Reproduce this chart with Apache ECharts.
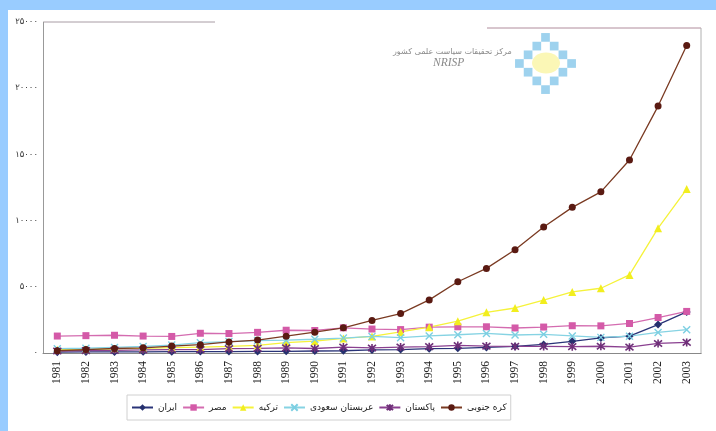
<!DOCTYPE html>
<html><head><meta charset="utf-8">
<script src="https://cdn.jsdelivr.net/npm/echarts@6/dist/echarts.min.js"></script>
<style>html,body{margin:0;padding:0;background:#fff}#c{width:716px;height:431px}</style>
</head><body><div id="c"></div><script>
const years = ['1981','1982','1983','1984','1985','1986','1987','1988','1989','1990','1991','1992','1993','1994','1995','1996','1997','1998','1999','2000','2001','2002','2003'];
const iran     = [60,80,80,90,100,110,110,120,130,150,170,230,260,330,350,420,500,650,880,1140,1270,2150,3100];
const egypt    = [1280,1310,1340,1280,1250,1490,1470,1560,1720,1700,1900,1810,1770,1950,1980,1980,1890,1960,2060,2050,2230,2680,3140];
const turkey   = [250,280,320,350,400,450,500,580,790,890,1100,1250,1590,1950,2400,3070,3400,4000,4610,4890,5900,9430,12380];
const saudi    = [330,360,420,490,600,780,860,940,970,1040,1130,1250,1160,1290,1380,1480,1360,1410,1290,1180,1270,1550,1760];
const pakistan = [150,180,200,230,250,260,330,350,390,340,450,380,450,480,570,520,500,500,480,510,440,720,800];
const korea    = [170,260,340,390,520,630,840,980,1270,1570,1900,2460,2980,4010,5380,6390,7800,9510,11000,12170,14580,18650,23230];
const yTickLabels = ['۰','۵۰۰۰','۱۰۰۰۰','۱۵۰۰۰','۲۰۰۰۰','۲۵۰۰۰'];
const names = ['ایران','مصر','ترکیه','عربستان سعودی','پاکستان','کره جنوبی'];

const X_PATH = 'path://M1,1L9,9M9,1L1,9';
const STAR_PATH = 'path://M1,1L9,9M9,1L1,9M5,0L5,10';

function ser(name, data, color, lineColor, symbol, size, extra) {
  return Object.assign({
    name, type: 'line', data, symbol, symbolSize: size,
    lineStyle: { color: lineColor, width: 1.3 },
    itemStyle: { color: color, borderColor: color, borderWidth: 0 },
    animation: false
  }, extra || {});
}

// decorative logo squares (diamond ring)
const logo = [];
const cx = 545.5, cy = 63.5, s = 8.7;
for (let i = -3; i <= 3; i++) for (let j = -3; j <= 3; j++) {
  if (Math.abs(i) + Math.abs(j) === 3) {
    logo.push({ type: 'rect', shape: { x: cx + i * s - s / 2, y: cy + j * s - s / 2, width: s, height: s },
      style: { fill: ((i + j) % 2 === 0) ? '#a9d8f0' : '#9ed2ee' }, z: 1, silent: true });
  }
}

const chart = echarts.init(document.getElementById('c'), null, { renderer: 'canvas' });
chart.setOption({
  backgroundColor: '#ffffff',
  animation: false,
  grid: { left: 43, right: 15, top: 22, bottom: 78, containLabel: false },
  legend: {
    data: names, left: 127, top: 395, orient: 'horizontal',
    itemWidth: 21, itemHeight: 8, itemGap: 5, padding: [8, 4],
    borderColor: '#d0d0d0', borderWidth: 1,
    textStyle: { fontFamily: 'DejaVu Sans', fontSize: 9, color: '#222' }
  },
  xAxis: {
    type: 'category', data: years, boundaryGap: true,
    axisLine: { lineStyle: { color: '#888', width: 1 } },
    axisTick: { show: false },
    axisLabel: { rotate: 90, margin: 8, fontFamily: 'Liberation Serif', fontSize: 11.5, color: '#222', interval: 0 },
    splitLine: { show: false }
  },
  yAxis: {
    type: 'value', min: 0, max: 25000, interval: 5000,
    axisLine: { show: true, lineStyle: { color: '#999', width: 1 } },
    axisTick: { show: false },
    splitLine: { show: false },
    axisLabel: { margin: 5, fontFamily: 'DejaVu Sans', fontSize: 8.5, color: '#333',
      formatter: v => yTickLabels[Math.round(v / 5000)] }
  },
  graphic: [
    { type: 'rect', shape: { x: 0, y: 0, width: 716, height: 10 }, style: { fill: '#99ccff' }, z: 100, silent: true },
    { type: 'rect', shape: { x: 0, y: 0, width: 8, height: 431 }, style: { fill: '#99ccff' }, z: 100, silent: true },
    { type: 'line', shape: { x1: 44, y1: 22, x2: 215, y2: 22 }, style: { stroke: '#a89ca4', lineWidth: 1 }, silent: true },
    { type: 'line', shape: { x1: 487, y1: 28, x2: 701, y2: 28 }, style: { stroke: '#b08c9c', lineWidth: 1 }, silent: true },
    { type: 'line', shape: { x1: 701, y1: 28, x2: 701, y2: 354 }, style: { stroke: '#b0b0b0', lineWidth: 1 }, silent: true },
    { type: 'ellipse', shape: { cx: 546, cy: 63, rx: 14, ry: 10.5 }, style: { fill: '#fbf7b6' }, z: 2, silent: true },
    ...logo,
    { type: 'text', left: 393, top: 48, style: { text: 'مرکز تحقیقات سیاست علمی کشور', fill: '#8a8a8a', font: '8px "DejaVu Sans"' }, silent: true },
    { type: 'text', left: 433, top: 57, style: { text: 'NRISP', fill: '#8a8a8a', font: 'italic 11.5px "Liberation Serif"' }, silent: true }
  ],
  series: [
    ser(names[0], iran, '#25306e', '#2a3478', 'diamond', 8),
    ser(names[1], egypt, '#d45aa8', '#d46cb0', 'rect', 7),
    ser(names[2], turkey, '#f2ee1e', '#f5f23a', 'triangle', 8),
    ser(names[3], saudi, '#7ccfe2', '#86d3e3', X_PATH, 7, { itemStyle: { color: '#7ccfe2', borderColor: '#7ccfe2', borderWidth: 1.4 } }),
    ser(names[4], pakistan, '#6e2f78', '#8a4090', STAR_PATH, 8, { itemStyle: { color: '#6e2f78', borderColor: '#6e2f78', borderWidth: 1.6 } }),
    ser(names[5], korea, '#5a1a12', '#7a3a22', 'circle', 7)
  ]
});
</script></body></html>
